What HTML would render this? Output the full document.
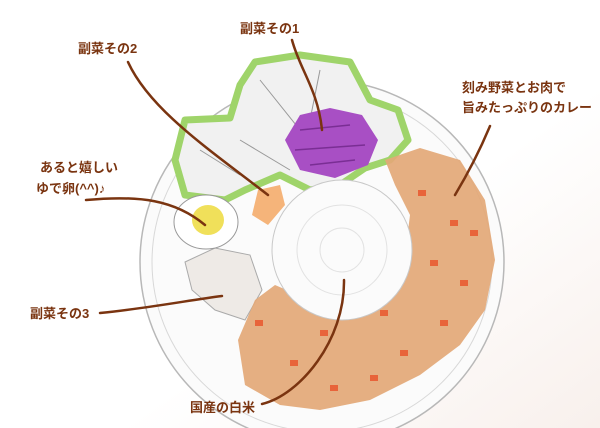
<!DOCTYPE html>
<html><head><meta charset="utf-8"><style>
html,body{margin:0;padding:0;width:600px;height:428px;overflow:hidden;background:#fff}
svg{display:block}
text{font-family:"Liberation Sans","Noto Sans CJK JP",sans-serif;font-weight:bold;fill:#7a3410;font-size:13px}
</style></head><body>
<svg width="600" height="428" viewBox="0 0 600 428">
<defs>
<linearGradient id="bg" x1="0" y1="0" x2="1" y2="1">
<stop offset="0.6" stop-color="#fff"/><stop offset="1" stop-color="#f8f0ec"/></linearGradient>
</defs>
<rect width="600" height="428" fill="url(#bg)"/>
<circle cx="322" cy="262" r="182" fill="#fbfbfb" stroke="#b8b8b8" stroke-width="1.5"/>
<circle cx="322" cy="262" r="170" fill="none" stroke="#d8d8d8" stroke-width="1"/>
<path d="M255,62 L300,55 L350,62 L370,100 L398,110 L408,140 L390,160 L365,168 L340,185 L310,190 L280,175 L245,190 L225,200 L185,195 L175,160 L185,120 L230,118 L240,85 Z" fill="#f1f1f1" stroke="#9fd46a" stroke-width="7" stroke-linejoin="round"/>
<path d="M260,80 L300,130 M320,70 L310,120 M240,140 L290,170 M200,150 L240,175" stroke="#999" stroke-width="1" fill="none"/>
<path d="M285,140 L300,115 L330,108 L362,115 L378,140 L368,165 L335,178 L300,170 Z" fill="#a84fc4"/>
<path d="M300,130 L350,125 M295,150 L365,145 M310,165 L355,160" stroke="#7a2e94" stroke-width="1.5" fill="none"/>
<path d="M185,262 L215,248 L250,255 L262,290 L245,320 L215,310 L192,290 Z" fill="#eeeae6" stroke="#aaa" stroke-width="1"/>
<path d="M385,160 L420,148 L460,160 L485,200 L495,260 L485,310 L460,345 L420,375 L370,400 L320,410 L280,405 L245,385 L238,340 L255,300 L275,285 L310,300 L345,300 L380,285 L405,255 L410,215 L395,185 Z" fill="#e3a877" opacity="0.92"/>
<g fill="#e8643a">
<rect x="418" y="190" width="8" height="6"/><rect x="450" y="220" width="8" height="6"/><rect x="430" y="260" width="8" height="6"/><rect x="460" y="280" width="8" height="6"/><rect x="440" y="320" width="8" height="6"/><rect x="400" y="350" width="8" height="6"/><rect x="370" y="375" width="8" height="6"/><rect x="330" y="385" width="8" height="6"/><rect x="290" y="360" width="8" height="6"/><rect x="255" y="320" width="8" height="6"/><rect x="320" y="330" width="8" height="6"/><rect x="380" y="310" width="8" height="6"/><rect x="470" y="230" width="8" height="6"/>
</g>
<circle cx="342" cy="250" r="70" fill="#fbfbfb" stroke="#c8c8c8" stroke-width="1"/>
<circle cx="342" cy="250" r="45" fill="none" stroke="#e2e2e2"/>
<circle cx="342" cy="250" r="22" fill="none" stroke="#e2e2e2"/>
<path d="M258,190 L280,185 L285,205 L268,225 L252,215 Z" fill="#f5b47a"/>
<ellipse cx="206" cy="222" rx="32" ry="27" fill="#fff" stroke="#999"/>
<ellipse cx="208" cy="220" rx="16" ry="15" fill="#f0e05a"/>
<g stroke="#7a3410" stroke-width="2.5" fill="none" stroke-linecap="round">
<path d="M292,40 C300,70 318,90 322,130"/>
<path d="M128,62 C150,110 210,150 268,195"/>
<path d="M86,200 C140,195 175,200 205,225"/>
<path d="M100,313 C150,308 190,300 222,296"/>
<path d="M262,404 C300,395 345,340 344,280"/>
<path d="M490,126 C480,150 470,170 455,195"/>
</g>
<text x="240" y="33">副菜その1</text>
<text x="78" y="53">副菜その2</text>
<text x="40" y="172">あると嬉しい</text>
<text x="36" y="193">ゆで卵(^^)♪</text>
<text x="30" y="318">副菜その3</text>
<text x="190" y="412">国産の白米</text>
<text x="462" y="92">刻み野菜とお肉で</text>
<text x="462" y="112">旨みたっぷりのカレー</text>
</svg>
</body></html>
